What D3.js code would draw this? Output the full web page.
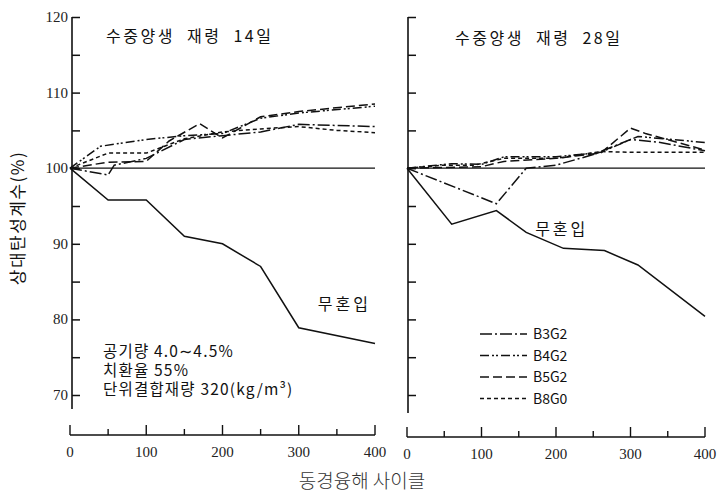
<!DOCTYPE html>
<html>
<head>
<meta charset="utf-8">
<script src="https://cdn.jsdelivr.net/npm/d3@7"></script>
<style>
  body { margin: 0; background: #fff; }
  svg { display: block; }
  .tick-label { font-family: "Liberation Serif", "DejaVu Serif", serif; font-size: 15px; fill: #222; }
  .ko { font-family: "Noto Sans CJK KR", "Noto Sans", sans-serif; fill: #111; }
</style>
</head>
<body>
<div id="chart"></div>
<script>
// data: [cycles, relative dynamic modulus %]
let cycleTicks = [0, 100, 200, 300, 400];
let yTicks = [70, 80, 90, 100, 110, 120];
let seriesNames = ["B3G2", "B4G2", "B5G2", "B8G0"];

let plain14 = [[0,100],[50,95.8],[100,95.8],[150,91],[200,90],[250,87],[300,78.9],[400,76.8]];
let b3g2_14 = [[0,100],[50,99.1],[58,100.4],[100,101.3],[150,103.8],[200,104.3],[250,104.8],[300,105.8],[400,105.5]];
let b4g2_14 = [[0,100],[40,102.9],[100,103.8],[150,104.3],[200,104.6],[250,106.6],[300,107.3],[400,108.2]];
let b5g2_14 = [[0,100],[50,100.8],[100,100.9],[130,103.6],[170,105.9],[200,104],[250,106.8],[300,107.5],[400,108.5]];
let b8g0_14 = [[0,100],[50,102],[100,102],[150,103.9],[200,104.8],[250,105.2],[300,105.5],[350,105],[400,104.7]];

let plain28 = [[0,100],[60,92.6],[120,94.4],[160,91.5],[210,89.4],[265,89.1],[310,87.2],[400,80.4]];
let b3g2_28 = [[0,100],[120,95.3],[160,100],[200,100.4],[250,101.8],[300,103.8],[340,103.4],[400,102.3]];
let b4g2_28 = [[0,100],[60,100.6],[100,100.5],[130,101.5],[200,101.5],[260,102.1],[310,104.2],[400,103.4]];
let b5g2_28 = [[0,100],[100,100.2],[130,100.9],[200,101.3],[260,102],[300,105.3],[320,104.6],[400,102.4]];
let b8g0_28 = [[0,100],[50,100.4],[90,100.4],[130,101.3],[200,101.3],[260,102.2],[300,102.1],[400,102.1]];

let dashes = {
    B3G2: "12,3,2,3",
    B4G2: "9,3,2,2,2,3",
    B5G2: "9,4",
    B8G0: "4,3"
};

let W = 721, H = 496;
let svg = d3.select("#chart").append("svg").attr("width", W).attr("height", H);

function panel(opts){
    let x = d3.scaleLinear().domain([0, 400]).range([opts.x0, opts.x1]);
    let y = d3.scaleLinear().domain([70, 120]).range([opts.y70, opts.y120]);
    let g = svg.append("g");

    // y axis, ticks inward
    let yAxis = d3.axisRight(y)
        .tickValues(d3.range(70, 121, 5))
        .tickSize(8)
        .tickFormat("");
    let ya = g.append("g")
        .attr("transform", "translate(" + opts.yAxisX + ",0)")
        .call(yAxis);
    ya.select(".domain").remove();
    ya.selectAll("line").attr("stroke", "#111").attr("stroke-width", 1.5);
    g.append("line")
        .attr("x1", opts.yAxisX).attr("x2", opts.yAxisX)
        .attr("y1", y(120)).attr("y2", opts.yBottom)
        .attr("stroke", "#111").attr("stroke-width", 1.6);

    if(opts.yLabels){
        g.selectAll(".ylab").data(yTicks).enter().append("text")
            .attr("class", "tick-label")
            .attr("x", opts.yAxisX - 4)
            .attr("y", function(d){ return y(d) + 5; })
            .attr("text-anchor", "end")
            .text(function(d){ return d; });
    }

    // x axis, ticks upward
    let xa = g.append("g")
        .attr("transform", "translate(0," + opts.xAxisY + ")");
    xa.append("line")
        .attr("x1", x(0)).attr("x2", x(400))
        .attr("stroke", "#111").attr("stroke-width", 1.6);
    xa.selectAll(".xt").data(d3.range(0, 401, 50)).enter().append("line")
        .attr("x1", function(d){ return x(d); })
        .attr("x2", function(d){ return x(d); })
        .attr("y1", 0)
        .attr("y2", function(d){ return d % 100 === 0 ? -10 : -6; })
        .attr("stroke", "#111").attr("stroke-width", 1.4);
    xa.selectAll(".xl").data(cycleTicks).enter().append("text")
        .attr("class", "tick-label")
        .attr("x", function(d){ return x(d); })
        .attr("y", 22)
        .attr("text-anchor", "middle")
        .text(function(d){ return d; });

    // reference line at 100 %
    g.append("line")
        .attr("x1", x(0)).attr("x2", x(400))
        .attr("y1", y(100)).attr("y2", y(100))
        .attr("stroke", "#111").attr("stroke-width", 1.2);

    let line = d3.line()
        .x(function(d){ return x(d[0]); })
        .y(function(d){ return y(d[1]); });

    opts.series.forEach(function(s){
        g.append("path")
            .datum(s.data)
            .attr("d", line)
            .attr("fill", "none")
            .attr("stroke", "#111")
            .attr("stroke-width", 1.5)
            .attr("stroke-dasharray", s.name ? dashes[s.name] : null);
    });

    g.append("text")
        .attr("class", "ko")
        .attr("x", opts.titleX).attr("y", opts.titleY)
        .style("font-size", "16px")
        .attr("letter-spacing", "2.5px")
        .attr("word-spacing", "6px")
        .text(opts.title);

    g.append("text")
        .attr("class", "ko")
        .attr("x", x(opts.plainLabel[0])).attr("y", y(opts.plainLabel[1]))
        .style("font-size", "16px")
        .attr("letter-spacing", "3px")
        .text("무혼입");

    return {x: x, y: y, g: g};
}

let left = panel({
    x0: 70, x1: 375, y70: 395, y120: 17, yAxisX: 72, yBottom: 409, xAxisY: 435,
    yLabels: true,
    title: "수중양생 재령 14일", titleX: 106, titleY: 42,
    plainLabel: [325, 81.2],
    series: [
        {name: null, data: plain14},
        {name: "B3G2", data: b3g2_14},
        {name: "B4G2", data: b4g2_14},
        {name: "B5G2", data: b5g2_14},
        {name: "B8G0", data: b8g0_14}
    ]
});

let right = panel({
    x0: 407, x1: 705, y70: 395, y120: 17, yAxisX: 408, yBottom: 413, xAxisY: 437,
    yLabels: false,
    title: "수중양생 재령 28일", titleX: 455, titleY: 44,
    plainLabel: [172, 91.2],
    series: [
        {name: null, data: plain28},
        {name: "B3G2", data: b3g2_28},
        {name: "B4G2", data: b4g2_28},
        {name: "B5G2", data: b5g2_28},
        {name: "B8G0", data: b8g0_28}
    ]
});

// notes in left panel
let notes = ["공기량 4.0∼4.5%", "치환율 55%", "단위결합재량 320(kg/m³)"];
left.g.selectAll(".note").data(notes).enter().append("text")
    .attr("class", "ko")
    .attr("x", 103)
    .attr("y", function(d, i){ return 357 + i * 19; })
    .style("font-size", "15.5px")
    .attr("letter-spacing", "1.2px")
    .text(function(d){ return d; });

// legend in right panel
let leg = right.g.append("g").attr("transform", "translate(480,334)");
seriesNames.forEach(function(n, i){
    leg.append("line")
        .attr("x1", 0).attr("x2", 47)
        .attr("y1", i * 21.5).attr("y2", i * 21.5)
        .attr("stroke", "#111").attr("stroke-width", 1.5)
        .attr("stroke-dasharray", dashes[n]);
    leg.append("text")
        .attr("class", "ko")
        .attr("x", 53).attr("y", i * 21.5 + 5)
        .style("font-size", "14px")
        .text(n);
});

// axis titles
svg.append("text")
    .attr("class", "ko")
    .attr("transform", "translate(24,218) rotate(-90)")
    .attr("text-anchor", "middle")
    .style("font-size", "17px")
    .attr("letter-spacing", "1.5px")
    .text("상대탄성계수(%)");

svg.append("text")
    .attr("class", "ko")
    .attr("x", 362).attr("y", 488)
    .attr("text-anchor", "middle")
    .style("font-size", "19px")
    .style("font-weight", "300")
    .style("fill", "#333")
    .text("동경융해 사이클");
</script>
</body>
</html>
